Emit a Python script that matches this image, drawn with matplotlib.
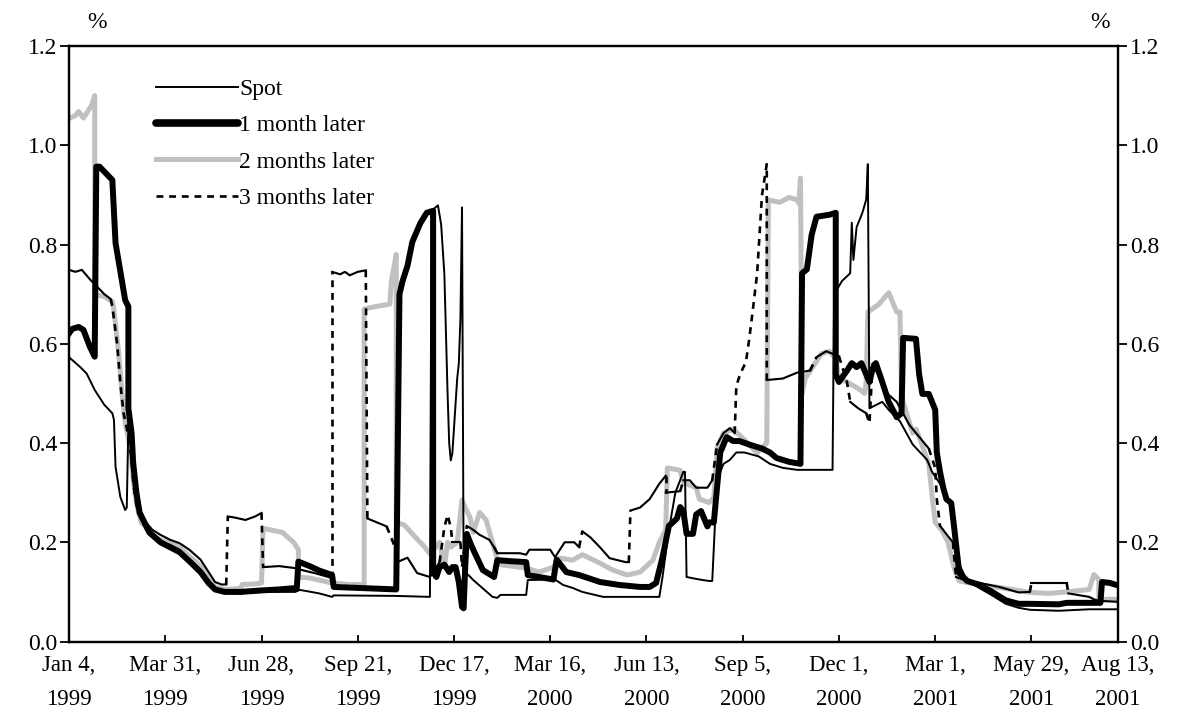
import numpy as np
import matplotlib.pyplot as plt
from matplotlib.lines import Line2D

plt.rcParams['font.family'] = ['Liberation Serif', 'DejaVu Serif']

# x = trading-day number counted from Jan 4, 1999 (one tick every 60 days)
tick_pos = [0, 60, 120, 180, 240, 300, 360, 420, 480, 540, 600, 654]
tick_labels = ['Jan 4,\n1999', 'Mar 31,\n1999', 'Jun 28,\n1999', 'Sep 21,\n1999',
               'Dec 17,\n1999', 'Mar 16,\n2000', 'Jun 13,\n2000', 'Sep 5,\n2000',
               'Dec 1,\n2000', 'Mar 1,\n2001', 'May 29,\n2001', 'Aug 13,\n2001']
last_day = 654

spot = [(0, 0.573), (7, 0.553), (11, 0.54), (16, 0.507), (22, 0.477), (27, 0.46), (28, 0.447),
        (29, 0.352), (32, 0.291), (35, 0.265), (36, 0.27), (37, 0.44), (38, 0.43), (40, 0.37),
        (42, 0.31), (45, 0.255), (48, 0.235), (52, 0.215), (57, 0.2), (63, 0.195), (69, 0.185),
        (75, 0.165), (82, 0.145), (88, 0.115), (92, 0.103), (98, 0.098), (107, 0.097),
        (120, 0.1), (141, 0.1), (144, 0.104), (156, 0.097), (164, 0.09), (165, 0.093),
        (203, 0.092), (225, 0.09), (226, 0.868), (230, 0.879), (232, 0.84), (234, 0.74),
        (236, 0.5), (237, 0.4), (238, 0.365), (239, 0.38), (240, 0.43), (242, 0.53),
        (243, 0.56), (244, 0.65), (245, 0.875), (246, 0.14), (249, 0.134), (252, 0.124),
        (264, 0.09), (267, 0.088), (269, 0.094), (285, 0.094), (286, 0.124), (303, 0.125),
        (308, 0.114), (314, 0.108), (320, 0.1), (333, 0.09), (350, 0.09), (368, 0.09),
        (370, 0.13), (374, 0.225), (378, 0.3), (383, 0.342), (384, 0.342), (385, 0.13),
        (393, 0.125), (399, 0.122), (401, 0.122), (404, 0.325), (408, 0.358), (412, 0.366),
        (416, 0.381), (421, 0.381), (430, 0.373), (437, 0.358), (445, 0.35), (454, 0.346),
        (476, 0.346), (477, 0.7), (482, 0.727), (487, 0.742), (488, 0.844), (489, 0.769),
        (491, 0.835), (494, 0.859), (495, 0.868), (497, 0.891), (498, 0.962), (499, 0.47),
        (507, 0.483), (511, 0.467), (518, 0.444), (526, 0.397), (535, 0.366), (538, 0.342),
        (543, 0.318), (551, 0.271), (553, 0.169), (560, 0.122), (568, 0.107), (576, 0.092),
        (584, 0.076), (592, 0.068), (599, 0.064), (617, 0.062), (636, 0.065), (654, 0.065)]

month1 = [(0, 0.621), (2, 0.63), (6, 0.634), (9, 0.628), (13, 0.594), (16, 0.574), (17, 0.957),
          (19, 0.957), (27, 0.93), (29, 0.803), (35, 0.688), (37, 0.675), (37, 0.47),
          (39, 0.42), (40, 0.36), (42, 0.3), (44, 0.26), (47, 0.24), (50, 0.22), (57, 0.2),
          (63, 0.19), (69, 0.18), (75, 0.162), (82, 0.14), (87, 0.118), (91, 0.105),
          (97, 0.1), (107, 0.1), (120, 0.103), (131, 0.105), (142, 0.108), (143, 0.161),
          (150, 0.152), (156, 0.143), (164, 0.134), (165, 0.11), (181, 0.108), (204, 0.105),
          (206, 0.7), (208, 0.727), (211, 0.757), (214, 0.805), (219, 0.843), (223, 0.864),
          (227, 0.868), (227, 0.14), (229, 0.13), (231, 0.15), (234, 0.155), (237, 0.14),
          (239, 0.15), (241, 0.15), (243, 0.12), (245, 0.07), (246, 0.067), (247, 0.15),
          (248, 0.217), (250, 0.2), (252, 0.185), (258, 0.144), (265, 0.13), (267, 0.164),
          (275, 0.162), (285, 0.16), (286, 0.134), (293, 0.13), (302, 0.125), (304, 0.165),
          (310, 0.14), (318, 0.134), (331, 0.12), (343, 0.114), (356, 0.11), (362, 0.11),
          (366, 0.118), (370, 0.17), (374, 0.233), (379, 0.248), (381, 0.271), (383, 0.263),
          (385, 0.217), (389, 0.217), (391, 0.256), (394, 0.263), (398, 0.232), (399, 0.24),
          (402, 0.24), (406, 0.381), (410, 0.412), (414, 0.404), (418, 0.404), (424, 0.397),
          (432, 0.389), (437, 0.381), (441, 0.37), (449, 0.362), (456, 0.358), (457, 0.742),
          (460, 0.75), (463, 0.82), (466, 0.856), (474, 0.86), (478, 0.864), (478, 0.538),
          (480, 0.523), (485, 0.546), (488, 0.561), (491, 0.553), (494, 0.561), (497, 0.538),
          (499, 0.523), (501, 0.55), (503, 0.561), (507, 0.523), (511, 0.483), (516, 0.452),
          (519, 0.46), (520, 0.612), (528, 0.61), (530, 0.538), (532, 0.499), (536, 0.499),
          (540, 0.467), (541, 0.381), (543, 0.342), (545, 0.31), (547, 0.287), (550, 0.279),
          (552, 0.225), (555, 0.138), (560, 0.122), (568, 0.114), (576, 0.099), (584, 0.083),
          (592, 0.076), (599, 0.076), (617, 0.075), (622, 0.078), (643, 0.078), (644, 0.12),
          (649, 0.118), (654, 0.113)]

month2 = [(0, 1.054), (4, 1.06), (6, 1.068), (9, 1.055), (11, 1.065), (14, 1.08), (16, 1.1),
          (16, 0.7), (22, 0.695), (27, 0.685), (28, 0.668), (31, 0.58), (33, 0.5), (35, 0.44),
          (37, 0.41), (39, 0.36), (41, 0.3), (43, 0.265), (45, 0.24), (48, 0.23), (52, 0.215),
          (57, 0.205), (63, 0.198), (69, 0.19), (75, 0.172), (82, 0.152), (87, 0.125),
          (91, 0.11), (97, 0.105), (107, 0.107), (108, 0.115), (116, 0.116), (120, 0.118),
          (121, 0.228), (133, 0.22), (140, 0.2), (143, 0.185), (143, 0.13), (150, 0.128),
          (164, 0.118), (175, 0.115), (184, 0.115), (184, 0.67), (191, 0.675), (200, 0.68),
          (201, 0.727), (204, 0.78), (204, 0.24), (209, 0.235), (216, 0.21), (221, 0.193),
          (225, 0.177), (231, 0.2), (234, 0.15), (236, 0.2), (238, 0.19), (242, 0.2),
          (245, 0.285), (247, 0.27), (250, 0.25), (252, 0.22), (256, 0.26), (260, 0.245),
          (264, 0.2), (267, 0.165), (269, 0.155), (285, 0.148), (293, 0.14), (302, 0.15),
          (306, 0.168), (314, 0.164), (320, 0.175), (331, 0.158), (339, 0.144), (348, 0.134),
          (356, 0.14), (364, 0.164), (368, 0.2), (372, 0.225), (373, 0.35), (381, 0.345),
          (383, 0.32), (391, 0.31), (393, 0.287), (399, 0.28), (402, 0.29), (404, 0.389),
          (408, 0.42), (414, 0.428), (420, 0.41), (429, 0.38), (434, 0.397), (435, 0.4),
          (436, 0.89), (443, 0.885), (449, 0.895), (454, 0.89), (455, 0.883), (456, 0.934),
          (457, 0.5), (459, 0.53), (465, 0.56), (469, 0.58), (474, 0.585), (478, 0.57),
          (480, 0.53), (485, 0.523), (492, 0.51), (496, 0.5), (497, 0.523), (498, 0.664),
          (505, 0.68), (511, 0.703), (516, 0.664), (518, 0.664), (519, 0.507), (520, 0.483),
          (526, 0.42), (528, 0.428), (530, 0.412), (536, 0.358), (538, 0.295), (540, 0.24),
          (544, 0.225), (548, 0.2), (552, 0.146), (555, 0.122), (568, 0.114), (584, 0.107),
          (599, 0.099), (611, 0.097), (622, 0.1), (636, 0.105), (639, 0.135), (642, 0.125),
          (642, 0.085), (654, 0.085)]

month3 = [(0, 0.749), (4, 0.745), (8, 0.749), (13, 0.73), (16, 0.72), (19, 0.71), (22, 0.7),
          (26, 0.69), (27, 0.675), (30, 0.6), (32, 0.52), (34, 0.46), (36, 0.43), (39, 0.37),
          (40, 0.32), (42, 0.275), (45, 0.25), (48, 0.24), (52, 0.225), (57, 0.215),
          (63, 0.205), (69, 0.198), (75, 0.185), (82, 0.165), (87, 0.14), (91, 0.12),
          (95, 0.115), (98, 0.115), (99, 0.252), (103, 0.25), (110, 0.245), (116, 0.252),
          (120, 0.259), (121, 0.15), (131, 0.152), (141, 0.148), (144, 0.145), (153, 0.138),
          (164, 0.128), (164, 0.745), (169, 0.74), (172, 0.745), (175, 0.738), (180, 0.745),
          (185, 0.748), (186, 0.248), (192, 0.24), (198, 0.232), (202, 0.2), (206, 0.162),
          (211, 0.169), (217, 0.138), (225, 0.13), (231, 0.16), (234, 0.23), (236, 0.255),
          (238, 0.23), (239, 0.2), (244, 0.2), (245, 0.15), (247, 0.2), (248, 0.233),
          (252, 0.225), (256, 0.215), (262, 0.205), (265, 0.19), (267, 0.178), (281, 0.178),
          (285, 0.175), (287, 0.185), (300, 0.185), (303, 0.17), (306, 0.185), (309, 0.2),
          (315, 0.2), (318, 0.19), (320, 0.222), (325, 0.21), (331, 0.19), (337, 0.168),
          (347, 0.16), (349, 0.16), (350, 0.264), (356, 0.27), (362, 0.287), (368, 0.318),
          (372, 0.334), (372, 0.3), (381, 0.303), (383, 0.325), (387, 0.325), (391, 0.31),
          (398, 0.31), (401, 0.325), (404, 0.397), (408, 0.42), (412, 0.43), (415, 0.42),
          (416, 0.515), (418, 0.535), (420, 0.55), (422, 0.563), (424, 0.608), (426, 0.66),
          (429, 0.742), (432, 0.899), (435, 0.962), (435, 0.527), (445, 0.53), (454, 0.542),
          (462, 0.546), (466, 0.573), (472, 0.585), (480, 0.575), (485, 0.523), (487, 0.483),
          (492, 0.47), (497, 0.46), (499, 0.44), (501, 0.56), (507, 0.523), (510, 0.5),
          (516, 0.483), (524, 0.436), (536, 0.389), (540, 0.35), (541, 0.287), (543, 0.233),
          (551, 0.2), (553, 0.13), (560, 0.122), (568, 0.118), (580, 0.11), (592, 0.099),
          (599, 0.1), (600, 0.118), (622, 0.118), (623, 0.097), (636, 0.09), (639, 0.085),
          (642, 0.082), (654, 0.08)]

labels = ['Spot', '1 month later', '2 months later', '3 months later']
gray = '#c0c0c0'
fs = 17


def draw_dashed_jumps(ax, pts, lw, dashes, z):
    # Excel-style dashed line: only the big day-to-day moves show the dashes
    x, y = pts[:, 0], pts[:, 1]
    steep = np.abs(np.diff(y)) / np.maximum(np.diff(x), 1) > 0.006
    start = 0
    for i in range(1, len(steep) + 1):
        if i == len(steep) or steep[i] != steep[start]:
            seg_x, seg_y = x[start:i + 1], y[start:i + 1]
            if steep[start]:
                ax.plot(seg_x, seg_y, color='black', lw=lw, dashes=dashes,
                        dash_capstyle='butt', zorder=z)
            else:
                ax.plot(seg_x, seg_y, color='black', lw=lw * 0.8,
                        solid_joinstyle='round', zorder=z)
            start = i


fig = plt.figure(figsize=(11.82, 7.24), dpi=100)
ax = fig.add_axes([0.0584, 0.1139, 0.8875, 0.8225])

s = np.array(spot)
m1 = np.array(month1)
m2 = np.array(month2)
m3 = np.array(month3)

ax.plot(m2[:, 0], m2[:, 1], color=gray, lw=3.6, solid_joinstyle='round', zorder=2)
ax.plot(m1[:, 0], m1[:, 1], color='black', lw=4.3, solid_joinstyle='round', zorder=3)
ax.plot(s[:, 0], s[:, 1], color='black', lw=1.4, solid_joinstyle='round', zorder=4)
draw_dashed_jumps(ax, m3, 1.9, (2.6, 2.2), 5)

ax.set_xlim(0, last_day)
ax.set_ylim(0, 1.2)
ax.set_xticks(tick_pos)
ax.set_xticklabels(tick_labels, fontsize=16.5, linespacing=1.8)
yt = np.arange(0, 1.21, 0.2)
ax.set_yticks(yt)
ax.set_yticklabels(['%.1f' % v for v in yt], fontsize=fs)
ax.tick_params(axis='x', direction='in', length=5, width=1.3, pad=10)
ax.tick_params(axis='y', direction='out', length=6.5, width=1.3, pad=2)
for sp in ax.spines.values():
    sp.set_linewidth(1.6)

ax2 = ax.twinx()
ax2.set_ylim(0, 1.2)
ax2.set_yticks(yt)
ax2.set_yticklabels(['%.1f' % v for v in yt], fontsize=fs)
ax2.tick_params(axis='y', direction='out', length=6.5, width=1.3, pad=2)
for sp in ax2.spines.values():
    sp.set_linewidth(1.6)

fig.text(97 / 1182, 1 - 22 / 724, '%', ha='center', va='center', fontsize=fs)
fig.text(1100 / 1182, 1 - 22 / 724, '%', ha='center', va='center', fontsize=fs)

handles = [Line2D([], [], color='black', lw=1.4),
           Line2D([], [], color='black', lw=5.5, solid_capstyle='round'),
           Line2D([], [], color=gray, lw=3.6),
           Line2D([], [], color='black', lw=1.9, dashes=(2.6, 2.2))]
ax.legend(handles, labels, loc='upper left', bbox_to_anchor=(0.083, 0.945),
          frameon=False, fontsize=fs, handlelength=3.45, handletextpad=0.08,
          labelspacing=0.62, borderpad=0, borderaxespad=0)

fig.savefig('out.png', dpi=100)
